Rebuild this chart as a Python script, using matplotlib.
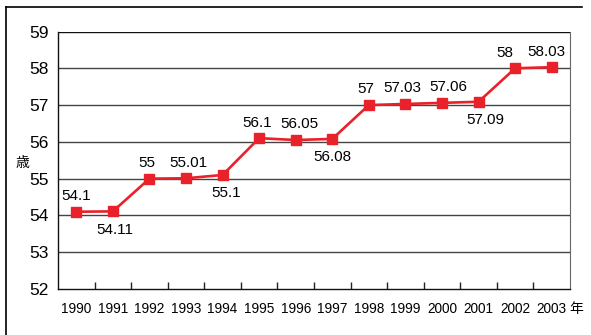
import matplotlib
matplotlib.use("Agg")
import matplotlib.pyplot as plt
from matplotlib.lines import Line2D

plt.rcParams['font.family'] = ['Liberation Sans', 'Noto Sans CJK JP', 'DejaVu Sans']

years = ["1990", "1991", "1992", "1993", "1994", "1995", "1996", "1997",
         "1998", "1999", "2000", "2001", "2002", "2003"]
values = [54.1, 54.11, 55, 55.01, 55.1, 56.1, 56.05, 56.08,
          57, 57.03, 57.06, 57.09, 58, 58.03]
labels = ["54.1", "54.11", "55", "55.01", "55.1", "56.1", "56.05", "56.08",
          "57", "57.03", "57.06", "57.09", "58", "58.03"]
label_above = [True, False, True, True, False, True, True, False,
               True, True, True, False, True, True]
label_shift_px = [0, 2, -3, 2, 4, -2, 4, 0, -3, -3, 6, 7, -10, -5]
yticks = [52, 53, 54, 55, 56, 57, 58, 59]

fig = plt.figure(figsize=(5.91, 3.35), dpi=100)
ax = fig.add_axes([58/591, 1-289/335, (570-58)/591, (289-31.5)/335])

x = list(range(len(years)))
red = '#e8212a'
ax.plot(x, values, color=red, lw=1.9, marker='s', markersize=7.8,
        markerfacecolor=red, markeredgecolor=red, zorder=3, clip_on=False)

for xi, v, lab, up, dx in zip(x, values, labels, label_above, label_shift_px):
    dxp = dx * 0.72
    if up:
        ax.annotate(lab, (xi, v), xytext=(dxp, 8.4), textcoords='offset points',
                    ha='center', va='baseline', fontsize=11)
    else:
        ax.annotate(lab, (xi, v), xytext=(dxp, -16.2), textcoords='offset points',
                    ha='center', va='baseline', fontsize=11)

ax.set_xlim(-0.5, len(years) - 0.5)
ax.set_ylim(52, 59)
ax.set_yticks(yticks)
ax.set_yticklabels([str(t) for t in yticks], fontsize=12.5)
ax.tick_params(axis='y', length=0, pad=6.5)
for t in yticks[1:]:
    ax.axhline(t, color='#444444' if t < 59 else '#111111', lw=1.0, zorder=1)

# category ticks at boundaries, labels centred
ax.set_xticks([i + 0.5 for i in range(len(years) - 1)])
ax.set_xticklabels([])
ax.tick_params(axis='x', direction='in', length=5, width=1, color='#222222')
for xi, yr in zip(x, years):
    ax.text(xi, -20/257.5, yr, transform=ax.get_xaxis_transform(),
            ha='center', va='center', fontsize=9.8)
fig.text(576.5/591, 1-309/335, "年", ha='center', va='center', fontsize=10)

for s in ['left', 'bottom']:
    ax.spines[s].set_color('#111111')
    ax.spines[s].set_linewidth(1.0)
ax.spines['right'].set_color('#666666')
ax.spines['top'].set_visible(False)

fig.text(22/591, 1-163/335, "歳", ha='center', va='center', fontsize=10)

# outer frame lines (left and top)
fig.add_artist(Line2D([6/591, 6/591], [0, 1-7/335], color='black', lw=1.2,
                      transform=fig.transFigure))
fig.add_artist(Line2D([6/591, 582/591], [1-7/335, 1-7/335], color='black', lw=1.2,
                      transform=fig.transFigure))

fig.savefig("out.png", dpi=100)
